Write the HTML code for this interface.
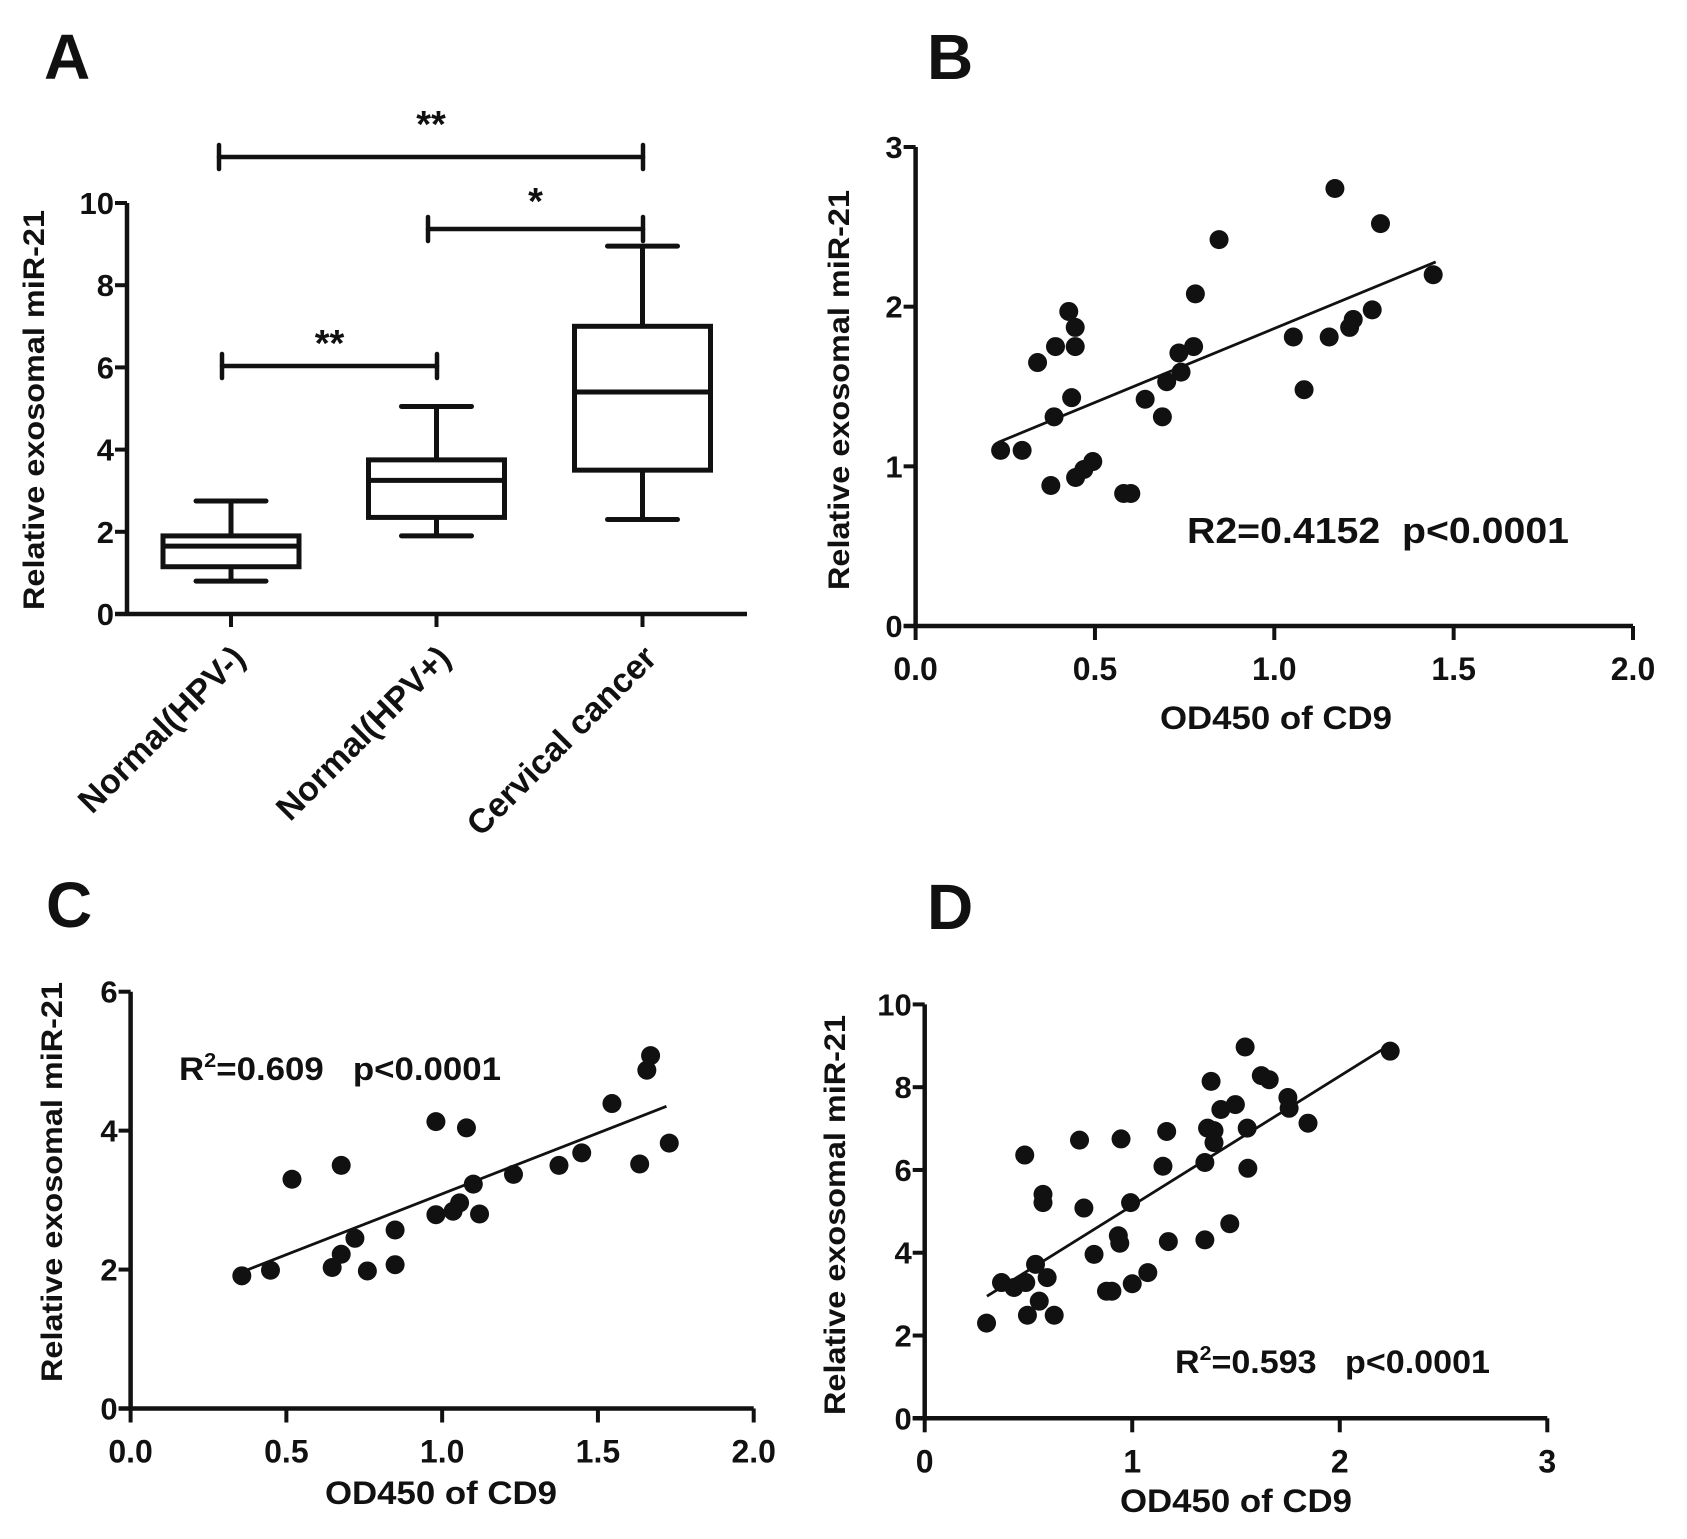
<!DOCTYPE html>
<html><head><meta charset="utf-8"><style>
html,body{margin:0;padding:0;background:#fff;}
svg{display:block;font-family:"Liberation Sans",Arial,sans-serif;}
</style></head><body>
<svg id="fig" width="1687" height="1539" viewBox="0 0 1687 1539" xmlns="http://www.w3.org/2000/svg"></svg>
<script>
// ---- Panel A data (box plots) ----
const aCategories = ["Normal(HPV-)", "Normal(HPV+)", "Cervical cancer"];
const aWhiskerLow = [0.8, 1.9, 2.3];
const aQ1 = [1.15, 2.35, 3.5];
const aMedian = [1.65, 3.25, 5.4];
const aQ3 = [1.9, 3.75, 7.0];
const aWhiskerHigh = [2.75, 5.05, 8.95];
const aYTicks = [0, 2, 4, 6, 8, 10];
// ---- Panel B data ----
const bX = [0.237,0.297,0.34,0.39,0.427,0.445,0.445,0.435,0.386,0.377,0.446,0.469,0.494,0.58,0.60,0.64,0.688,0.70,0.734,0.74,0.775,0.78,0.846,1.053,1.083,1.153,1.169,1.21,1.22,1.273,1.296,1.443];
const bY = [1.10,1.10,1.65,1.75,1.97,1.87,1.75,1.43,1.31,0.88,0.93,0.98,1.03,0.83,0.83,1.42,1.31,1.53,1.71,1.59,1.75,2.08,2.42,1.81,1.48,1.81,2.74,1.87,1.92,1.98,2.52,2.20];
const bLineX = [0.23, 1.45];
const bLineY = [1.15, 2.28];
const bXTicks = ["0.0","0.5","1.0","1.5","2.0"];
const bYTicks = [0, 1, 2, 3];
// ---- Panel C data ----
const cX = [0.357,0.449,0.518,0.647,0.676,0.676,0.72,0.76,0.849,0.849,0.98,0.98,1.035,1.056,1.078,1.10,1.12,1.229,1.375,1.448,1.545,1.634,1.657,1.669,1.729];
const cY = [1.91,1.99,3.30,2.03,2.22,3.50,2.45,1.98,2.57,2.07,2.79,4.13,2.84,2.96,4.04,3.23,2.80,3.37,3.50,3.68,4.39,3.52,4.87,5.08,3.82];
const cLineX = [0.36, 1.72];
const cLineY = [1.97, 4.35];
const cXTicks = ["0.0","0.5","1.0","1.5","2.0"];
const cYTicks = [0, 2, 4, 6];
// ---- Panel D data ----
const dX = [0.298,0.37,0.43,0.487,0.482,0.495,0.534,0.552,0.57,0.57,0.59,0.624,0.746,0.767,0.816,0.876,0.902,0.933,0.94,0.946,0.992,1.0,1.075,1.148,1.166,1.174,1.35,1.35,1.363,1.38,1.394,1.394,1.427,1.47,1.497,1.544,1.554,1.557,1.622,1.66,1.75,1.756,1.847,2.243];
const dY = [2.30,3.28,3.16,3.28,6.36,2.49,3.72,2.83,5.41,5.21,3.40,2.49,6.72,5.08,3.96,3.07,3.07,4.41,4.23,6.75,5.21,3.25,3.52,6.09,6.93,4.27,6.18,4.31,7.01,8.14,6.95,6.66,7.46,4.70,7.58,8.97,7.01,6.04,8.28,8.18,7.75,7.49,7.13,8.87];
const dLineX = [0.3, 2.25];
const dLineY = [2.95, 9.05];
const dXTicks = ["0","1","2","3"];
const dYTicks = [0, 2, 4, 6, 8, 10];

const NS = "http://www.w3.org/2000/svg";
const svg = document.getElementById("fig");
function mk(tag, attrs, parent, text){
  const e = document.createElementNS(NS, tag);
  for (const k in attrs) e.setAttribute(k, attrs[k]);
  if (text !== undefined) e.textContent = text;
  (parent || svg).appendChild(e);
  return e;
}
const FONT = "font-weight:bold";

function axes(g, ox, oy, xEnd, yTop, xs, ys, xTickVals, yTickVals, xLabels, yLabels){
  const axY = mk("line",{x1:ox,y1:oy,x2:ox,y2:yTop,stroke:"#111","stroke-width":4.5},g);
  
  
  const axX = mk("line",{x1:ox-12,y1:oy,x2:xEnd,y2:oy,stroke:"#111","stroke-width":4.5},g);
  
  
  yTickVals.forEach((v,i)=>{
    const y = ys(v);
    const t = mk("line",{x1:ox-12,y1:y,x2:ox,y2:y,stroke:"#111","stroke-width":4},g);
    
    
    const l = mk("text",{x:ox-13,y:y+11,"text-anchor":"end","font-size":31,style:FONT,fill:"#111"},g,yLabels[i]);
    
    
  });
  if (xTickVals) xTickVals.forEach((v,i)=>{
    const x = xs(v);
    const t = mk("line",{x1:x,y1:oy,x2:x,y2:oy+14,stroke:"#111","stroke-width":4},g);
    
    
    if (xLabels){
      const l = mk("text",{x:x,y:oy+54,"text-anchor":"middle","font-size":32,style:FONT,fill:"#111"},g,xLabels[i]);
      
      
    }
  });
}
function yTitle(g, x, y, len){
  const t = mk("text",{x:0,y:0,transform:`translate(${x},${y}) rotate(-90)`,"text-anchor":"middle","font-size":30,style:FONT,fill:"#111",textLength:len,lengthAdjust:"spacingAndGlyphs"},g,"Relative exosomal miR-21");
  
  
}
function xTitle(g, x, y){
  const t = mk("text",{x:x,y:y,"text-anchor":"middle","font-size":32,style:FONT,fill:"#111",textLength:232,lengthAdjust:"spacingAndGlyphs"},g,"OD450 of CD9");
  
  
}
function letter(g, x, y, s){
  const t = mk("text",{x:x,y:y,"font-size":64,style:FONT,fill:"#111"},g,s);
  
  
}

// ---------- Panel A ----------
(function(){
  const g = mk("g",{});
  
  
  const ox=127, oy=614, yTop=203, xEnd=747;
  const ys = v => oy - (v/10)*(oy-yTop);
  const centers = [231, 436.5, 642.5];
  const xs = i => centers[i];
  letter(g, 44, 79, "A");
  axes(g, ox, oy, xEnd, yTop, null, ys, null, aYTicks, null, aYTicks.map(String));
  aCategories.forEach((c,i)=>{
    const x = xs(i);
    const t = mk("line",{x1:x,y1:oy,x2:x,y2:oy+13,stroke:"#111","stroke-width":4},g);
    
    
    const l = mk("text",{x:0,y:0,transform:`translate(${x+16},${oy+46}) rotate(-45)`,"text-anchor":"end","font-size":34,style:FONT,fill:"#111"},g,c);
    
    
    const bw = 68, cw = 35;
    const box = mk("g",{},g);
    
    
    const st = {stroke:"#111","stroke-width":5,fill:"none"};
    mk("line",Object.assign({x1:x,y1:ys(aWhiskerHigh[i]),x2:x,y2:ys(aQ3[i])},st),box);
    mk("line",Object.assign({x1:x,y1:ys(aWhiskerLow[i]),x2:x,y2:ys(aQ1[i])},st),box);
    mk("line",Object.assign({x1:x-cw,y1:ys(aWhiskerHigh[i]),x2:x+cw,y2:ys(aWhiskerHigh[i]),"stroke-linecap":"round"},st),box);
    mk("line",Object.assign({x1:x-cw,y1:ys(aWhiskerLow[i]),x2:x+cw,y2:ys(aWhiskerLow[i]),"stroke-linecap":"round"},st),box);
    mk("rect",Object.assign({x:x-bw,y:ys(aQ3[i]),width:bw*2,height:ys(aQ1[i])-ys(aQ3[i])},st),box);
    mk("line",Object.assign({x1:x-bw,y1:ys(aMedian[i]),x2:x+bw,y2:ys(aMedian[i])},st),box);
  });
  yTitle(g, 44, 410, 400);
  function sig(x1,x2,y,label,ly){
    const s = mk("g",{},g);
    
    
    const st={stroke:"#111","stroke-width":4.5,"stroke-linecap":"round"};
    mk("line",Object.assign({x1:x1,y1:y,x2:x2,y2:y},st),s);
    mk("line",Object.assign({x1:x1,y1:y-12,x2:x1,y2:y+12},st),s);
    mk("line",Object.assign({x1:x2,y1:y-12,x2:x2,y2:y+12},st),s);
    const t = mk("text",{x:(x1+x2)/2,y:ly,"text-anchor":"middle","font-size":38,style:FONT,fill:"#111"},s,label);
    
    
  }
  sig(219, 643, 157, "**", 137);
  sig(428, 643, 229, "*", 214);
  sig(222, 437, 366, "**", 356);
})();

// ---------- scatter panels ----------
function scatter(cfg){
  const g = mk("g",{});
  
  
  const xs = v => cfg.ox + (v/cfg.xMax)*(cfg.xEnd-cfg.ox);
  const ys = v => cfg.oy - (v/cfg.yMax)*(cfg.oy-cfg.yTop);
  letter(g, cfg.lx, cfg.ly, cfg.letter);
  axes(g, cfg.ox, cfg.oy, cfg.xEnd, cfg.yTop, xs, ys, cfg.xTicks.map(Number), cfg.yTicks, cfg.xTicks, cfg.yTicks.map(String));
  cfg.X.forEach((v,i)=>{
    const c = mk("circle",{cx:xs(v),cy:ys(cfg.Y[i]),r:9.5,fill:"#111"},g);
    
    
  });
  const ln = mk("line",{x1:xs(cfg.LX[0]),y1:ys(cfg.LY[0]),x2:xs(cfg.LX[1]),y2:ys(cfg.LY[1]),stroke:"#111","stroke-width":2.8},g);
  
  
  yTitle(g, cfg.ytx, cfg.yty, cfg.ytl);
  xTitle(g, cfg.xtx, cfg.xty);
  const st = mk("text",{x:cfg.sx,y:cfg.sy,"font-size":cfg.sfs,style:FONT+";white-space:pre",fill:"#111",textLength:cfg.slen,lengthAdjust:"spacingAndGlyphs"},g);
  
  
  cfg.stat(st);
}
scatter({name:"panel-b-scatter",letter:"B",lx:927,ly:79,ox:915.6,oy:626,xEnd:1633,yTop:147,xMax:2,yMax:3,
  xTicks:bXTicks,yTicks:bYTicks,X:bX,Y:bY,LX:bLineX,LY:bLineY,ytx:849,yty:390,ytl:400,xtx:1276,xty:729,
  sx:1187,sy:543,sfs:36,slen:382,stat:t=>{t.textContent="R2=0.4152  p<0.0001";}});
scatter({name:"panel-c-scatter",letter:"C",lx:46,ly:927,ox:130.6,oy:1408.5,xEnd:753.7,yTop:991.7,xMax:2,yMax:6,
  xTicks:cXTicks,yTicks:cYTicks,X:cX,Y:cY,LX:cLineX,LY:cLineY,ytx:62,yty:1182,ytl:400,xtx:441,xty:1504,
  sx:179,sy:1080,sfs:32,slen:322,stat:t=>{
    mk("tspan",{},t,"R");
    mk("tspan",{dy:-13,"font-size":20},t,"2");
    mk("tspan",{dy:13},t,"=0.609   p<0.0001");
  }});
scatter({name:"panel-d-scatter",letter:"D",lx:927,ly:929,ox:924.7,oy:1418.3,xEnd:1547.3,yTop:1004.4,xMax:3,yMax:10,
  xTicks:dXTicks,yTicks:dYTicks,X:dX,Y:dY,LX:dLineX,LY:dLineY,ytx:845,yty:1215,ytl:400,xtx:1236,xty:1512,
  sx:1175,sy:1373,sfs:32,slen:315,stat:t=>{
    mk("tspan",{},t,"R");
    mk("tspan",{dy:-13,"font-size":20},t,"2");
    mk("tspan",{dy:13},t,"=0.593   p<0.0001");
  }});
</script>
</body></html>
